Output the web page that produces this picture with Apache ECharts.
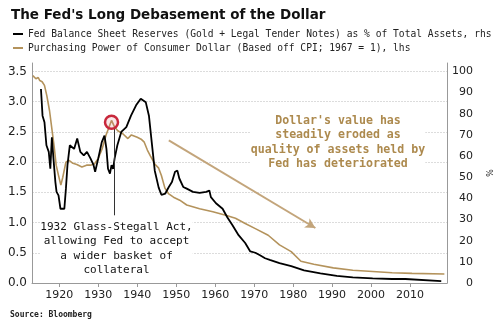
<!DOCTYPE html>
<html><head><meta charset="utf-8">
<script src="https://cdn.jsdelivr.net/npm/echarts@6/dist/echarts.min.js"></script>
<style>html,body{margin:0;padding:0;background:#fff}#c{width:500px;height:326px}</style>
</head><body><div id="c"></div>
<script>
const titleText = "The Fed's Long Debasement of the Dollar";
const resName = "Fed Balance Sheet Reserves (Gold + Legal Tender Notes) as % of Total Assets, rhs";
const ppName = "Purchasing Power of Consumer Dollar (Based off CPI; 1967 = 1), lhs";
const sourceText = "Source: Bloomberg";

const ppYears = [1913.2,1914.0,1914.6,1915.0,1915.6,1916.2,1916.8,1917.5,1918.2,1918.7,1919.2,1919.8,1920.4,1920.9,1921.7,1922.5,1923.5,1924.5,1925.8,1927.0,1928.0,1929.0,1930.0,1931.0,1932.0,1932.7,1933.4,1934.2,1935.0,1936.3,1937.6,1938.5,1940.0,1941.0,1941.8,1942.6,1943.4,1944.5,1945.5,1946.2,1947.1,1948.0,1949.3,1950.9,1952.7,1956.0,1959.4,1962.7,1965.2,1967.7,1970.3,1973.6,1976.5,1979.5,1982.0,1985.3,1990.3,1995.3,2000.4,2005.4,2010.5,2018.8];
const ppValues = [3.43,3.38,3.40,3.35,3.33,3.27,3.10,2.85,2.50,2.25,1.95,1.78,1.62,1.75,2.00,2.03,1.98,1.96,1.92,1.95,1.95,1.97,2.06,2.22,2.45,2.57,2.69,2.58,2.52,2.47,2.39,2.45,2.41,2.38,2.33,2.20,2.10,1.97,1.90,1.78,1.57,1.48,1.42,1.37,1.29,1.23,1.18,1.12,1.07,0.985,0.90,0.79,0.63,0.52,0.36,0.31,0.25,0.21,0.19,0.17,0.16,0.15];

const resYears = [1915.3,1915.7,1916.2,1916.7,1917.3,1917.7,1918.1,1918.5,1919.0,1919.3,1919.8,1920.3,1920.8,1921.3,1921.7,1922.1,1922.7,1923.8,1924.6,1925.4,1926.3,1927.1,1928.0,1928.8,1929.2,1930.0,1930.9,1931.6,1932.1,1932.5,1933.0,1933.4,1933.8,1934.2,1934.9,1935.9,1937.2,1938.4,1939.7,1940.9,1942.2,1943.0,1943.9,1944.5,1945.5,1946.2,1947.2,1948.1,1948.9,1949.7,1950.3,1950.8,1951.8,1952.7,1954.3,1956.0,1957.7,1958.5,1958.9,1960.2,1961.9,1963.1,1964.4,1966.0,1967.7,1969.0,1970.3,1971.5,1972.8,1974.0,1976.5,1979.5,1982.8,1987.0,1991.2,1995.3,2000.4,2005.4,2008.8,2009.2,2018.0];
const resValues = [91.7,79.1,76.0,65.1,62.0,54.0,68.9,58.9,47.7,43.1,41.4,35.1,34.3,35.1,44.6,55.7,65.1,63.4,68.3,62.0,60.3,62.0,58.9,55.7,52.6,58.9,66.6,69.7,63.4,54.0,51.7,55.7,54.0,58.9,65.1,71.4,73.7,79.1,84.0,87.1,85.4,79.1,63.4,53.1,45.1,41.7,42.3,45.4,47.7,52.6,53.1,49.4,45.4,44.6,43.1,42.6,43.1,43.7,40.6,37.7,35.1,31.1,27.4,22.6,18.9,14.9,14.3,13.1,11.7,10.9,9.4,8.0,6.0,4.6,3.4,2.7,2.2,1.9,1.9,1.1,0.9];

const xTickYears = [1920,1930,1940,1950,1960,1970,1980,1990,2000,2010];

const BROWN = '#b4935c';
const chart = echarts.init(document.getElementById('c'), null, {renderer:'canvas'});
const gridColors = ['#dcdcdc','#dcdcdc','#dcdcdc','#dcdcdc','#dcdcdc','#dcdcdc','#dcdcdc','#dcdcdc','rgba(0,0,0,0)'];

chart.setOption({
  animation: false,
  backgroundColor: '#fff',
  title: {
    text: titleText, left: 6, top: 3,
    textStyle: {fontFamily: 'DejaVu Sans', fontWeight: 'bold', fontSize: 13.5, color: '#111'}
  },
  legend: {
    orient: 'vertical', left: 8, top: 24, itemWidth: 10, itemHeight: 2, itemGap: 4, icon: 'rect',
    data: [resName, ppName],
    textStyle: {fontFamily: 'DejaVu Sans Mono', fontSize: 9.65, color: '#222'}
  },
  grid: {left: 32, right: 44, top: 63, bottom: 43},
  xAxis: {
    type: 'value', min: 1913, max: 2019.5,
    axisLine: {show: true, lineStyle: {color: '#999'}},
    axisTick: {show: true, customValues: xTickYears, length: 4, lineStyle: {color: '#999'}},
    axisLabel: {customValues: xTickYears, fontFamily: 'DejaVu Sans', fontSize: 11, color: '#222', margin: 7,
      formatter: v => String(v)},
    splitLine: {show: false}
  },
  yAxis: [
    {
      type: 'value', min: 0, max: 3.64, interval: 0.5, position: 'left',
      axisLine: {show: true, lineStyle: {color: '#999'}},
      axisTick: {show: false},
      axisLabel: {showMaxLabel: false, fontFamily: 'DejaVu Sans', fontSize: 12, color: '#222', margin: 5,
        formatter: v => v.toFixed(1)},
      splitLine: {show: true, lineStyle: {color: gridColors, width: 1, type: [2,1]}}
    },
    {
      type: 'value', min: 0, max: 104, interval: 10, position: 'right',
      axisLine: {show: true, lineStyle: {color: '#999'}},
      axisTick: {show: false},
      axisLabel: {showMaxLabel: false, fontFamily: 'DejaVu Sans', fontSize: 11, color: '#222', margin: 26, align: 'right'},
      splitLine: {show: false},
      name: '%', nameLocation: 'middle', nameGap: 36, nameRotate: -90,
      nameTextStyle: {fontFamily: 'DejaVu Sans', fontSize: 8, color: '#222'}
    }
  ],
  series: [
    {
      name: resName, type: 'line', yAxisIndex: 1, showSymbol: false, z: 3,
      data: resYears.map((y, i) => [y, resValues[i]]),
      lineStyle: {color: '#000', width: 1.8}, itemStyle: {color: '#000'}
    },
    {
      name: ppName, type: 'line', yAxisIndex: 0, showSymbol: false, z: 2,
      data: ppYears.map((y, i) => [y, ppValues[i]]),
      lineStyle: {color: BROWN, width: 1.6}, itemStyle: {color: BROWN},
      markPoint: {
        silent: true, z: 5,
        data: [{coord: [1933.4, 2.66], symbol: 'circle', symbolSize: 13,
          itemStyle: {color: 'rgba(230,120,130,0.18)', borderColor: '#c8283c', borderWidth: 2.5},
          label: {show: false}}]
      },
      markLine: {
        silent: true, symbol: ['none', 'none'], label: {show: false}, animation: false,
        data: [
          [{coord: [1934.0, 2.58], lineStyle: {color: '#333', width: 1, type: 'solid'}}, {coord: [1934.0, 1.12]}],
          [{coord: [1948.1, 2.36], symbol: 'none', lineStyle: {color: '#c3a57b', width: 2, type: 'solid'}},
           {coord: [1985.7, 0.91], symbol: 'arrow', symbolSize: [8, 10]}]
        ]
      }
    }
  ],
  graphic: [
    {type: 'text', silent: true, z: 100, style: {
      x: 116.5, y: 248.5, text: '1932 Glass-Stegall Act,\nallowing Fed to accept\na wider basket of\ncollateral',
      textAlign: 'center', textVerticalAlign: 'middle', lineHeight: 14.5,
      font: '11px "DejaVu Sans Mono"', fill: '#111', backgroundColor: '#fff'}},
    {type: 'text', silent: true, z: 100, style: {
      x: 338, y: 142.5, text: "Dollar's value has\nsteadily eroded as\nquality of assets held by\nFed has deteriorated",
      textAlign: 'center', textVerticalAlign: 'middle', lineHeight: 14.5,
      font: 'bold 11.6px "DejaVu Sans Mono"', fill: '#ad8a4e', backgroundColor: '#fff'}},
    {type: 'text', silent: true, z: 100, style: {
      x: 10, y: 315, text: sourceText, textAlign: 'left', textVerticalAlign: 'middle',
      font: 'bold 8px "DejaVu Sans Mono"', fill: '#222'}}
  ]
});
</script>
</body></html>
